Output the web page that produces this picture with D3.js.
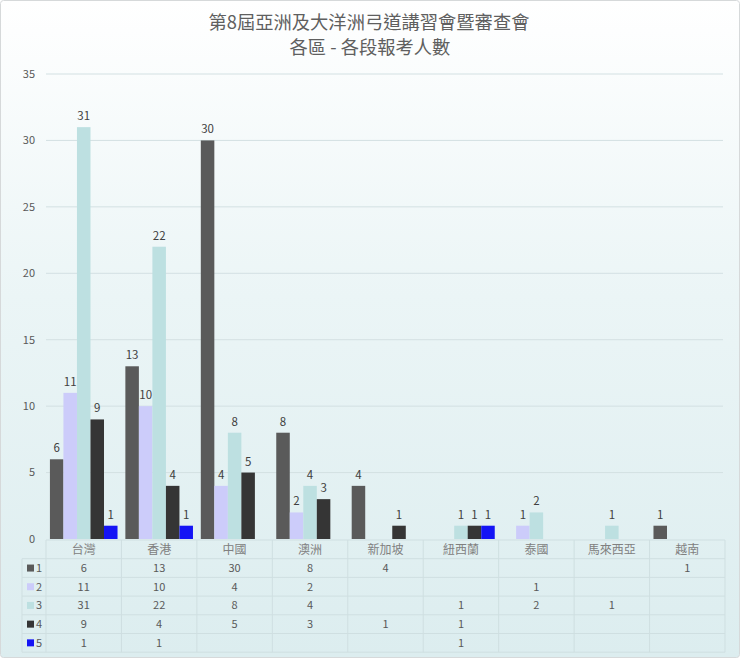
<!DOCTYPE html>
<html lang="zh-Hant">
<head>
<meta charset="UTF-8">
<title>各區 - 各段報考人數</title>
<script src="https://d3js.org/d3.v7.min.js"></script>
<style>
  body { margin: 0; background: #fff; }
  text { font-family: "Noto Sans CJK TC", "Noto Sans", sans-serif; }
</style>
</head>
<body>
<svg id="chart" width="740" height="660"></svg>
<script>
// 資料
var categories = ["台灣", "香港", "中國", "澳洲", "新加坡", "紐西蘭", "泰國", "馬來西亞", "越南"];
var seriesNames = ["1", "2", "3", "4", "5"];
var dan1 = [6, 13, 30, 8, 4, null, null, null, 1];
var dan2 = [11, 10, 4, 2, null, null, 1, null, null];
var dan3 = [31, 22, 8, 4, null, 1, 2, 1, null];
var dan4 = [9, 4, 5, 3, 1, 1, null, null, null];
var dan5 = [1, 1, null, null, null, 1, null, null, null];
var yTicks = [0, 5, 10, 15, 20, 25, 30, 35];

var seriesValues = [dan1, dan2, dan3, dan4, dan5];
var colors = ["#5a5a5a", "#ccccfa", "#bde0e1", "#353535", "#1414f5"];

var svg = d3.select("#chart");
var W = 740, H = 660;

// 背景漸層
var defs = svg.append("defs");
var grad = defs.append("linearGradient").attr("id", "bg")
    .attr("x1", 0).attr("y1", 0).attr("x2", 0).attr("y2", 1);
grad.append("stop").attr("offset", "0%").attr("stop-color", "#ffffff");
grad.append("stop").attr("offset", "45%").attr("stop-color", "#ebf5f6");
grad.append("stop").attr("offset", "100%").attr("stop-color", "#dcedef");

svg.append("rect")
    .attr("x", 0.5).attr("y", 0.5)
    .attr("width", W - 1).attr("height", H - 3)
    .attr("rx", 3)
    .attr("fill", "url(#bg)")
    .attr("stroke", "#d6d9da");

// 標題
svg.append("text")
    .attr("x", 369).attr("y", 29)
    .attr("text-anchor", "middle")
    .attr("font-size", "18.3px")
    .attr("fill", "#5f5f5f")
    .text("第8屆亞洲及大洋洲弓道講習會暨審查會");
svg.append("text")
    .attr("x", 370).attr("y", 54)
    .attr("text-anchor", "middle")
    .attr("font-size", "18.3px")
    .attr("fill", "#5f5f5f")
    .text("各區 - 各段報考人數");

// 比例尺
var plotLeft = 46, plotRight = 725, plotTop = 74, plotBottom = 539;
var x0 = d3.scaleBand().domain(categories).range([plotLeft, plotRight]).padding(0);
var x1 = d3.scaleBand().domain(seriesNames).range([0, x0.bandwidth()])
    .paddingInner(0).paddingOuter(0.29);
var y = d3.scaleLinear().domain([0, 35]).range([plotBottom, plotTop]);

// 格線
svg.append("g").selectAll("line")
    .data(yTicks.filter(d => d > 0))
    .enter().append("line")
    .attr("x1", plotLeft).attr("x2", plotRight - 2)
    .attr("y1", d => y(d)).attr("y2", d => y(d))
    .attr("stroke", "#d3e0e2")
    .attr("stroke-width", 1);

// Y 軸標籤
svg.append("g").selectAll("text")
    .data(yTicks)
    .enter().append("text")
    .attr("x", 35)
    .attr("y", d => y(d))
    .attr("dy", "0.35em")
    .attr("text-anchor", "end")
    .attr("font-size", "11px")
    .attr("fill", "#595959")
    .text(d => d);

// 長條
var bars = [];
seriesValues.forEach(function(vals, si) {
    vals.forEach(function(v, ci) {
        if (v != null) bars.push({ s: seriesNames[si], si: si, c: categories[ci], v: v });
    });
});

svg.append("g").selectAll("rect")
    .data(bars)
    .enter().append("rect")
    .attr("x", d => x0(d.c) + x1(d.s))
    .attr("y", d => y(d.v))
    .attr("width", x1.bandwidth())
    .attr("height", d => y(0) - y(d.v))
    .attr("fill", d => colors[d.si]);

svg.append("g").selectAll("text")
    .data(bars)
    .enter().append("text")
    .attr("x", d => x0(d.c) + x1(d.s) + x1.bandwidth() / 2)
    .attr("y", d => y(d.v) - 7)
    .attr("text-anchor", "middle")
    .attr("font-size", "11.5px")
    .attr("fill", "#404040")
    .text(d => d.v);

// 資料表
var rowH = 18.7;
var tableTop = plotBottom + 1;
var legendLeft = 22;
var tbl = svg.append("g");
var lineColor = "#cfdfe1";

// 表頭（分類）
tbl.selectAll(".cat")
    .data(categories)
    .enter().append("text")
    .attr("class", "cat")
    .attr("x", d => x0(d) + x0.bandwidth() / 2)
    .attr("y", tableTop + rowH / 2)
    .attr("dy", "0.35em")
    .attr("text-anchor", "middle")
    .attr("font-size", "12px")
    .attr("fill", "#808080")
    .text(d => d);

// 水平線
var hLines = d3.range(0, seriesNames.length + 2);
tbl.selectAll(".hl")
    .data(hLines)
    .enter().append("line")
    .attr("x1", d => d === 0 ? plotLeft : legendLeft)
    .attr("x2", plotRight)
    .attr("y1", d => tableTop + d * rowH)
    .attr("y2", d => tableTop + d * rowH)
    .attr("stroke", lineColor);

// 垂直線
var vx = categories.map(c => x0(c)).concat([plotRight]);
tbl.selectAll(".vl")
    .data(vx)
    .enter().append("line")
    .attr("x1", d => d).attr("x2", d => d)
    .attr("y1", tableTop)
    .attr("y2", tableTop + (seriesNames.length + 1) * rowH)
    .attr("stroke", lineColor);
tbl.append("line")
    .attr("x1", legendLeft).attr("x2", legendLeft)
    .attr("y1", tableTop + rowH)
    .attr("y2", tableTop + (seriesNames.length + 1) * rowH)
    .attr("stroke", lineColor);

// 圖例欄
seriesNames.forEach(function(name, si) {
    var cy = tableTop + (si + 1.5) * rowH;
    tbl.append("rect")
        .attr("x", 27).attr("y", cy - 3.5)
        .attr("width", 7).attr("height", 7)
        .attr("fill", colors[si]);
    tbl.append("text")
        .attr("x", 36).attr("y", cy)
        .attr("dy", "0.35em")
        .attr("font-size", "11px")
        .attr("fill", "#595959")
        .text(name);
});

// 表格數值
tbl.selectAll(".val")
    .data(bars)
    .enter().append("text")
    .attr("class", "val")
    .attr("x", d => x0(d.c) + x0.bandwidth() / 2)
    .attr("y", d => tableTop + (d.si + 1.5) * rowH)
    .attr("dy", "0.35em")
    .attr("text-anchor", "middle")
    .attr("font-size", "11px")
    .attr("fill", "#595959")
    .text(d => d.v);
</script>
</body>
</html>
